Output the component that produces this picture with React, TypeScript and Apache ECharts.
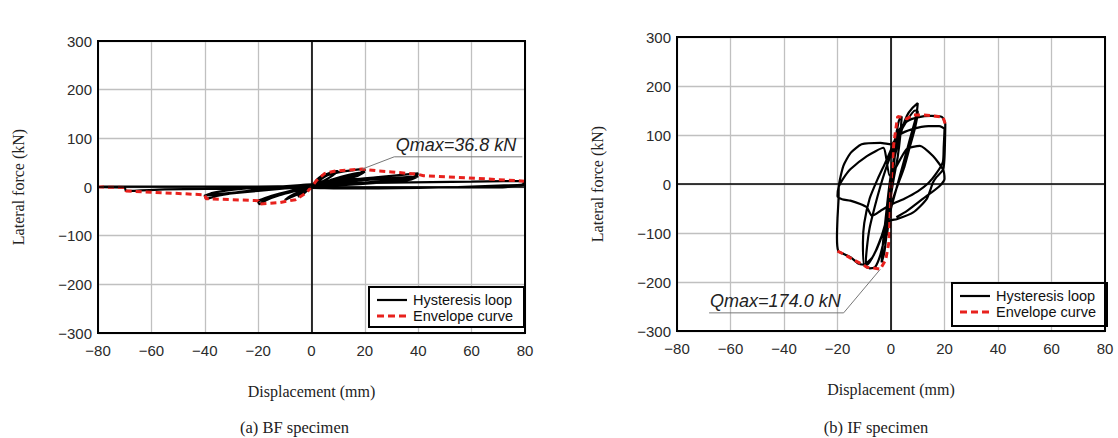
import React, { useEffect, useRef } from "react";
import * as echarts from "echarts";

// ---------- data ----------
const legendNames = ["Hysteresis loop", "Envelope curve"];
const xAxisName = "Displacement (mm)";
const yAxisName = "Lateral force (kN)";
const captions = ["(a) BF specimen", "(b) IF specimen"];
const qmaxLabels = ["Qmax=36.8 kN", "Qmax=174.0 kN"];

// BF specimen
const bfEnvelope: [number, number][] = [
  [-80, 0], [-70, -1], [-69.5, -8], [-55, -12], [-40, -16], [-39.5, -24], [-30, -26], [-20, -28], [-19.5, -35],
  [-12, -32], [-6, -26], [-2, -12], [0, 0], [2, 14], [5, 28], [9, 33], [14, 35], [19, 36.8],
  [25, 33], [30, 31], [40, 26], [42, 23], [58, 19], [80, 12],
];
const bfHysteresis: [number, number][] = [
  [0, 0], [1, 8], [2, 15], [3.5, 22], [5, 26], [4, 18], [2, 8], [0, 0], [-1.5, -7], [-3, -14], [-5, -20], [-4, -13], [-2, -5], [0, 2],
  [2, 12], [4, 22], [6, 27], [9, 32], [10, 33], [8, 24], [5, 14], [2, 6], [0, 1], [-3, -8], [-6, -17], [-9, -24], [-10, -27], [-8, -19], [-5, -10], [-2, -2], [0, 3],
  [3, 14], [6, 24], [10, 30], [15, 34], [19, 36.8], [20, 35], [17, 27], [12, 18], [6, 9], [2, 4], [-2, -1], [-6, -6], [-10, -12], [-14, -20], [-18, -27], [-20, -30], [-19.5, -35], [-17, -27], [-12, -17], [-6, -8], [-1, -1], [3, 6],
  [8, 16], [14, 25], [20, 31], [17, 22], [11, 14], [5, 7], [0, 2], [-6, -6], [-12, -15], [-17, -23], [-20, -28], [-16, -20], [-10, -11], [-4, -3], [0, 2],
  [8, 10], [16, 16], [24, 20], [32, 24], [40, 28], [38, 20], [30, 14], [20, 9], [10, 5], [0, 1], [-8, -2], [-16, -6], [-24, -10], [-32, -14], [-40, -17], [-39.5, -24], [-35, -18], [-28, -11], [-20, -6], [-12, -2], [-4, 2], [4, 5],
  [12, 10], [22, 15], [32, 19], [40, 22], [37, 15], [28, 10], [18, 6], [8, 3], [0, 0], [-10, -3], [-20, -7], [-30, -12], [-40, -18], [-37, -12], [-30, -6], [-22, -2], [-12, 1], [-4, 4], [4, 7],
  [15, 8], [30, 9], [45, 10], [60, 11], [72, 12], [80, 12], [79, 5], [70, 3], [55, 0], [40, -2], [25, -3], [10, -3], [0, -2], [-10, -2], [-25, -3], [-40, -4], [-55, -5], [-69.5, -8], [-70, -1], [-80, 0],
  [-78, 1], [-60, 1], [-40, 1], [-20, 1], [-5, 2], [0, 0], [10, -1], [25, -1], [40, -1], [55, -1], [70, -1], [78, 3], [80, 5],
];
const bfQmaxPoint: [number, number] = [19, 36.8];
const bfNoteLine: [number, number][] = [[31, 62], [79, 62]];

// IF specimen
const ifEnvelope: [number, number][] = [
  [-20, -137], [-17, -145], [-14, -155], [-11, -163], [-9, -170], [-6, -172], [-4, -174], [-2, -155], [-0.8, -120], [-0.3, -60],
  [0, 0], [0.5, 40], [1, 80], [2, 120], [2.5, 138], [4, 136], [6, 133], [8, 141], [12, 141], [16, 139], [19.5, 136], [20.3, 122],
];
const ifHysteresis: [number, number][] = [
  [0, 0], [0.8, 40], [1.5, 80], [2.2, 110], [1.8, 80], [1, 35], [0, 0], [-0.5, -40], [-1, -80], [-1.5, -105], [-1.2, -70], [-0.5, -25], [0, 5],
  [1, 50], [2, 100], [3, 130], [4, 138], [3.5, 100], [2.5, 55], [1, 10], [-0.5, -40], [-1.5, -95], [-2.5, -140], [-3.5, -160], [-3, -120], [-2, -70], [-1, -20], [0, 20],
  [2, 70], [4, 110], [6, 140], [8, 155], [10, 165], [9.5, 140], [8, 110], [6, 70], [4, 30], [2, -10], [0, -50], [-2, -100], [-4, -145], [-6, -170], [-8, -172], [-9.5, -168], [-9, -130], [-8, -90], [-6, -45], [-4, -5], [-2, 30], [0, 60],
  [3, 100], [6, 130], [9, 150], [10, 148], [9, 115], [7, 75], [5, 35], [2, -10], [-1, -60], [-4, -115], [-7, -150], [-10, -165], [-10.5, -120], [-10, -80], [-8, -30], [-5, 10], [-2, 45], [0, 70],
  [3, 110], [6, 128], [10, 136], [15, 139], [19, 137], [20.3, 122], [20.2, 90], [20, 55], [19.5, 30], [17, 14], [15.7, 3], [13.3, -31], [8.3, -58], [2.1, -72], [-0.4, -75],
  [-3, -100], [-6, -140], [-9, -165], [-12, -163], [-15, -150], [-18, -142], [-19.7, -137], [-20.2, -110], [-20, -70], [-19.6, -31], [-19.5, -4], [-17.8, 37], [-15, 64], [-11, 81], [-4, 84], [0, 81],
  [3, 100], [8, 112], [14, 118], [18, 118], [20, 112], [19.7, 75], [19.4, 45], [17, 22], [14, 2], [10, -15], [5, -30], [0, -42], [-4, -55], [-7.1, -65], [-9, -48], [-11.5, -41], [-15.2, -34], [-18.3, -31], [-20, -25],
  [-19.5, -5], [-18, 10], [-15.2, 30], [-9, 57], [-2.9, 74], [-0.4, 16], [5.8, 71], [10.8, 78], [15.7, 57], [19.4, 30], [20, 10], [18, -5], [12, -30], [6, -55], [2, -68],
];
const ifQmaxPoint: [number, number] = [-4, -174];
const ifNoteLine: [number, number][] = [[-17.7, -263], [-68, -263]];

// ---------- styles ----------
const SANS = "'Liberation Sans', Arial, sans-serif";
const SERIF = "'Liberation Serif', 'Times New Roman', serif";
const RED = "#e8211d";

const minus = (v: number) => String(v).replace("-", "\u2212");

function axes(gridIndex: number) {
  const x = {
    type: "value",
    gridIndex,
    min: -80,
    max: 80,
    interval: 20,
    name: xAxisName,
    nameLocation: "middle",
    nameGap: 50,
    nameTextStyle: { fontFamily: SERIF, fontSize: 16, color: "#222" },
    axisLine: { show: false },
    axisTick: { show: false },
    axisLabel: { formatter: minus, fontFamily: SANS, fontSize: 15, color: "#2a2a2a", margin: 10 },
    splitLine: { show: true, lineStyle: { color: "#c0c0c0", width: 1.3 } },
  };
  const y = {
    type: "value",
    gridIndex,
    min: -300,
    max: 300,
    interval: 100,
    name: yAxisName,
    nameLocation: "middle",
    nameGap: 72,
    nameTextStyle: { fontFamily: SERIF, fontSize: 16, color: "#222" },
    axisLine: { show: false },
    axisTick: { show: false },
    axisLabel: { formatter: minus, fontFamily: SANS, fontSize: 15, color: "#2a2a2a", margin: 6 },
    splitLine: { show: true, lineStyle: { color: "#c0c0c0", width: 1.3 } },
  };
  return { x, y };
}

function seriesFor(idx: number, hys: [number, number][], env: [number, number][], peak: [number, number], note: [number, number][]) {
  return [
    {
      type: "line",
      name: "zero",
      xAxisIndex: idx,
      yAxisIndex: idx,
      data: [],
      z: 1,
      markLine: {
        silent: true,
        symbol: "none",
        label: { show: false },
        lineStyle: { color: "#000", width: 1.6, type: "solid" },
        data: [{ xAxis: 0 }, { yAxis: 0 }],
      },
    },
    {
      type: "line",
      name: legendNames[0],
      xAxisIndex: idx,
      yAxisIndex: idx,
      data: hys,
      symbol: "none",
      smooth: 0.2,
      z: 2,
      lineStyle: { color: "#000", width: 2.2 },
    },
    {
      type: "line",
      name: legendNames[1],
      xAxisIndex: idx,
      yAxisIndex: idx,
      data: env,
      symbol: "none",
      z: 3,
      lineStyle: { color: RED, width: 3, type: [6, 4] },
    },
    {
      type: "line",
      name: "note",
      xAxisIndex: idx,
      yAxisIndex: idx,
      data: [peak, note[0], note[1]],
      symbol: "none",
      z: 4,
      lineStyle: { color: "#777", width: 1 },
    },
  ];
}

function legendBox(left: number, top: number, w: number, h: number) {
  const row1 = top + 13;
  const row2 = top + 29;
  const textStyle = { fontFamily: SANS, fontSize: 14.5, fill: "#111", verticalAlign: "middle", align: "left" };
  return {
    type: "group",
    z: 20,
    children: [
      { type: "rect", shape: { x: left, y: top, width: w, height: h }, style: { fill: "#fff", stroke: "#000", lineWidth: 2 } },
      { type: "line", shape: { x1: left + 8, y1: row1, x2: left + 38, y2: row1 }, style: { stroke: "#000", lineWidth: 2.2 } },
      { type: "line", shape: { x1: left + 8, y1: row2, x2: left + 38, y2: row2 }, style: { stroke: RED, lineWidth: 3, lineDash: [7, 4] } },
      { type: "text", x: left + 44, y: row1, style: { text: legendNames[0], ...textStyle } },
      { type: "text", x: left + 44, y: row2, style: { text: legendNames[1], ...textStyle } },
    ],
  };
}

export default function App() {
  const ref = useRef<HTMLDivElement>(null);
  useEffect(() => {
    if (!ref.current) return;
    const chart = echarts.init(ref.current, undefined, { renderer: "svg" });
    const a0 = axes(0);
    const a1 = axes(1);
    chart.setOption({
      animation: false,
      backgroundColor: "#fff",
      grid: [
        { left: 98, top: 41, width: 427, height: 292, show: true, borderColor: "#000", borderWidth: 2, backgroundColor: "transparent", z: 5 },
        { left: 677, top: 37, width: 428, height: 294, show: true, borderColor: "#000", borderWidth: 2, backgroundColor: "transparent", z: 5 },
      ],
      xAxis: [a0.x, a1.x],
      yAxis: [a0.y, a1.y],
      series: [
        ...seriesFor(0, bfHysteresis, bfEnvelope, bfQmaxPoint, bfNoteLine),
        ...seriesFor(1, ifHysteresis, ifEnvelope, ifQmaxPoint, ifNoteLine),
      ],
    });

    const p0 = chart.convertToPixel({ gridIndex: 0 }, bfNoteLine[1]) as number[];
    const p1 = chart.convertToPixel({ gridIndex: 1 }, ifNoteLine[0]) as number[];
    const g0 = chart.convertToPixel({ gridIndex: 0 }, [0, -300]) as number[];
    const g1 = chart.convertToPixel({ gridIndex: 1 }, [0, -300]) as number[];
    const r0 = chart.convertToPixel({ gridIndex: 0 }, [80, -300]) as number[];
    const r1 = chart.convertToPixel({ gridIndex: 1 }, [80, -300]) as number[];
    chart.setOption({
      graphic: [
        legendBox(r0[0] - 156, r0[1] - 46, 155, 40),
        legendBox(r1[0] - 153, r1[1] - 48, 155, 43),
        {
          type: "text",
          x: p0[0] - 6,
          y: p0[1] - 3,
          z: 10,
          style: { text: qmaxLabels[0], fontFamily: SANS, fontStyle: "italic", fontSize: 18, fill: "#222", align: "right", verticalAlign: "bottom" },
        },
        {
          type: "text",
          x: p1[0] - 3,
          y: p1[1] - 3,
          z: 10,
          style: { text: qmaxLabels[1], fontFamily: SANS, fontStyle: "italic", fontSize: 18, fill: "#222", align: "right", verticalAlign: "bottom" },
        },
        {
          type: "text",
          x: g0[0] - 17,
          y: 427,
          style: { text: captions[0], fontFamily: SERIF, fontSize: 16.5, fill: "#222", align: "center", verticalAlign: "middle" },
        },
        {
          type: "text",
          x: g1[0] - 15,
          y: 427,
          style: { text: captions[1], fontFamily: SERIF, fontSize: 16.5, fill: "#222", align: "center", verticalAlign: "middle" },
        },
      ],
    });
    return () => chart.dispose();
  }, []);
  return <div ref={ref} style={{ position: "absolute", left: 0, top: 0, width: 1118, height: 438 }} />;
}
